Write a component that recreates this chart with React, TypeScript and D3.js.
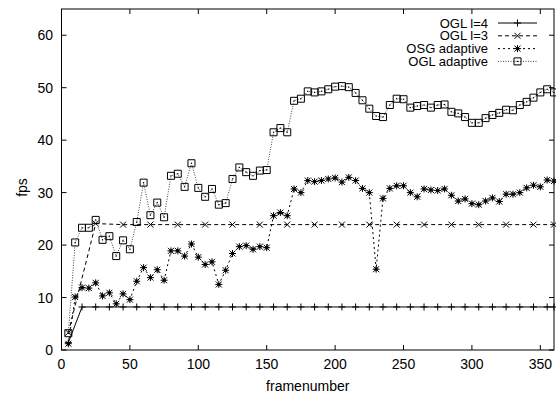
import React from 'react';
import * as d3 from 'd3';

// frame numbers (every 5 frames) used by the two adaptive runs
const framesAll = [
  5, 10, 15, 20, 25, 30, 35, 40, 45, 50, 55, 60, 65, 70, 75, 80, 85, 90,
  95, 100, 105, 110, 115, 120, 125, 130, 135, 140, 145, 150, 155, 160, 165, 170,
  175, 180, 185, 190, 195, 200, 205, 210, 215, 220, 225, 230, 235, 240, 245, 250,
  255, 260, 265, 270, 275, 280, 285, 290, 295, 300, 305, 310, 315, 320, 325, 330,
  335, 340, 345, 350, 355, 360,
];
const osgAdaptive = [
  1.2, 10.1, 11.9, 11.8, 12.8, 10.3, 10.9, 8.8, 10.7, 9.6, 13.1, 15.7, 13.8, 15.3, 13.3, 18.9, 18.9, 17.9,
  20.2, 17.7, 16.3, 16.8, 12.5, 15.2, 18.4, 19.7, 19.9, 19.2, 19.7, 19.5, 25.6, 26.2, 25.6, 30.7,
  30.0, 32.3, 32.1, 32.3, 32.6, 32.8, 32.0, 32.9, 32.3, 30.8, 30.0, 15.4, 28.9, 30.8, 31.3, 31.3,
  30.0, 29.2, 30.7, 30.5, 30.4, 30.7, 29.5, 28.4, 28.8, 27.9, 27.7, 28.4, 29.0, 28.3, 29.7, 29.7,
  30.0, 30.9, 31.4, 31.1, 32.4, 32.2,
];
const oglAdaptive = [
  3.2, 20.5, 23.3, 23.3, 24.8, 21.0, 21.7, 17.9, 20.9, 19.2, 24.4, 31.9, 25.7, 28.1, 25.3, 33.2, 33.6, 31.1,
  35.6, 30.9, 29.2, 30.7, 27.7, 28.0, 32.6, 34.8, 33.9, 33.2, 34.2, 34.3, 41.5, 42.3, 41.5, 47.5,
  47.9, 49.3, 49.1, 49.3, 49.7, 50.2, 50.3, 50.1, 49.0, 47.6, 46.0, 44.6, 44.4, 46.7, 47.9, 47.8,
  46.2, 46.5, 46.7, 46.2, 46.7, 46.8, 45.4, 45.1, 44.4, 43.3, 43.3, 44.2, 44.8, 45.2, 45.8, 45.7,
  46.7, 47.3, 48.1, 49.1, 49.7, 49.1,
];

// OGL l=4 sampled every 10 frames
const framesL4 = [
  5, 15, 25, 35, 45, 55, 65, 75, 85, 95, 105, 115, 125, 135, 145, 155, 165, 175,
  185, 195, 205, 215, 225, 235, 245, 255, 265, 275, 285, 295, 305, 315, 325, 335, 345, 355, 360,
];
const oglL4 = [
  1.4, 8.2, 8.2, 8.2, 8.2, 8.2, 8.2, 8.2, 8.2, 8.2, 8.2, 8.2, 8.2, 8.2, 8.2, 8.2, 8.2, 8.2,
  8.2, 8.2, 8.2, 8.2, 8.2, 8.2, 8.2, 8.2, 8.2, 8.2, 8.2, 8.2, 8.2, 8.2, 8.2, 8.2, 8.2, 8.2, 8.2,
];

// OGL l=3 sampled every 20 frames
const framesL3 = [5, 25, 45, 65, 85, 105, 125, 145, 165, 185, 205, 225, 245, 265, 285, 305, 325, 345, 360];
const oglL3 = [3.3, 24.1, 23.9, 23.9, 23.9, 23.9, 23.9, 23.9, 23.9, 23.9, 23.9, 23.9, 23.9, 23.9, 23.9, 23.9, 23.9, 23.9, 23.9];

const xTicks = [0, 50, 100, 150, 200, 250, 300, 350];
const yTicks = [0, 10, 20, 30, 40, 50, 60];

const W = 556;
const H = 395;
const left = 61.5;
const right = 554;
const top = 9;
const bottom = 350;
const font = "'Liberation Sans', Arial, sans-serif";

type Marker = 'plus' | 'cross' | 'star' | 'box';

function markerPath(kind: Marker, x: number, y: number) {
  const p = 3.5;
  const c = 3;
  const plus = `M${x - p},${y}H${x + p}M${x},${y - p}V${y + p}`;
  const cross = `M${x - c},${y - c}L${x + c},${y + c}M${x - c},${y + c}L${x + c},${y - c}`;
  if (kind === 'plus') return plus;
  if (kind === 'cross') return cross;
  if (kind === 'star') return plus + cross;
  return `M${x - 3.5},${y - 3.5}h7v7h-7Z`;
}

function Point({ kind, x, y }: { kind: Marker; x: number; y: number }) {
  return (
    <g>
      <path d={markerPath(kind, x, y)} fill="none" stroke="#000" strokeWidth={1} />
      {kind === 'box' && <rect x={x - 0.6} y={y - 0.6} width={1.2} height={1.2} fill="#000" />}
      {kind === 'star' && <rect x={x - 1.5} y={y - 1.5} width={3} height={3} fill="#000" />}
    </g>
  );
}

export default function App() {
  const x = d3.scaleLinear().domain([0, 360]).range([left, right]);
  const y = d3.scaleLinear().domain([0, 65]).range([bottom, top]);
  const line = d3
    .line<[number, number]>()
    .x((d) => x(d[0]))
    .y((d) => y(d[1]));

  const series = [
    { name: 'OGL l=4', frames: framesL4, values: oglL4, dash: undefined, marker: 'plus' as Marker, stroke: '#000' },
    { name: 'OGL l=3', frames: framesL3, values: oglL3, dash: '4,3', marker: 'cross' as Marker, stroke: '#000' },
    { name: 'OSG adaptive', frames: framesAll, values: osgAdaptive, dash: '2,3', marker: 'star' as Marker, stroke: '#000' },
    { name: 'OGL adaptive', frames: framesAll, values: oglAdaptive, dash: '1,1.5', marker: 'box' as Marker, stroke: '#444' },
  ];

  const keyY = [23, 35.8, 48.6, 61.4];

  return (
    <svg
      width={W}
      height={H}
      style={{ position: 'absolute', left: 0, top: 0, background: '#fff' }}
      fontFamily={font}
    >
      <rect width={W} height={H} fill="#fff" />
      {/* ticks, mirrored on all sides */}
      {xTicks.map((t) => (
        <g key={'x' + t}>
          <line x1={x(t)} x2={x(t)} y1={bottom} y2={bottom - 5} stroke="#000" />
          <line x1={x(t)} x2={x(t)} y1={top} y2={top + 5} stroke="#000" />
          <text x={x(t)} y={364} fontSize={14} textAnchor="middle" dominantBaseline="central">
            {t}
          </text>
        </g>
      ))}
      {yTicks.map((t) => (
        <g key={'y' + t}>
          <line x1={left} x2={left + 5} y1={y(t)} y2={y(t)} stroke="#000" />
          <line x1={right} x2={right - 5} y1={y(t)} y2={y(t)} stroke="#000" />
          <text x={53} y={y(t)} fontSize={14} textAnchor="end" dominantBaseline="central">
            {t}
          </text>
        </g>
      ))}
      <text x={(left + right) / 2} y={386} fontSize={14} textAnchor="middle" dominantBaseline="central">
        framenumber
      </text>
      <text
        transform={`translate(22,${(top + bottom) / 2 + 8}) rotate(-90)`}
        fontSize={14}
        textAnchor="middle"
        dominantBaseline="central"
      >
        fps
      </text>

      {series.map((s) => {
        const pts = s.frames.map((f, i) => [f, s.values[i]] as [number, number]);
        return (
          <g key={s.name}>
            <path d={line(pts) || ''} fill="none" stroke={s.stroke} strokeWidth={1} strokeDasharray={s.dash} />
            {pts.map((p, i) => (
              <Point key={i} kind={s.marker} x={x(p[0])} y={y(p[1])} />
            ))}
          </g>
        );
      })}

      {/* key */}
      {series.map((s, i) => (
        <g key={'k' + s.name}>
          <text x={488} y={keyY[i]} fontSize={13} textAnchor="end" dominantBaseline="central">
            {s.name}
          </text>
          <line x1={498} x2={537} y1={keyY[i]} y2={keyY[i]} stroke={s.stroke} strokeDasharray={s.dash} />
          <Point kind={s.marker} x={517.5} y={keyY[i]} />
        </g>
      ))}

      <rect x={left} y={top} width={right - left} height={bottom - top} fill="none" stroke="#000" strokeWidth={1} />
    </svg>
  );
}
